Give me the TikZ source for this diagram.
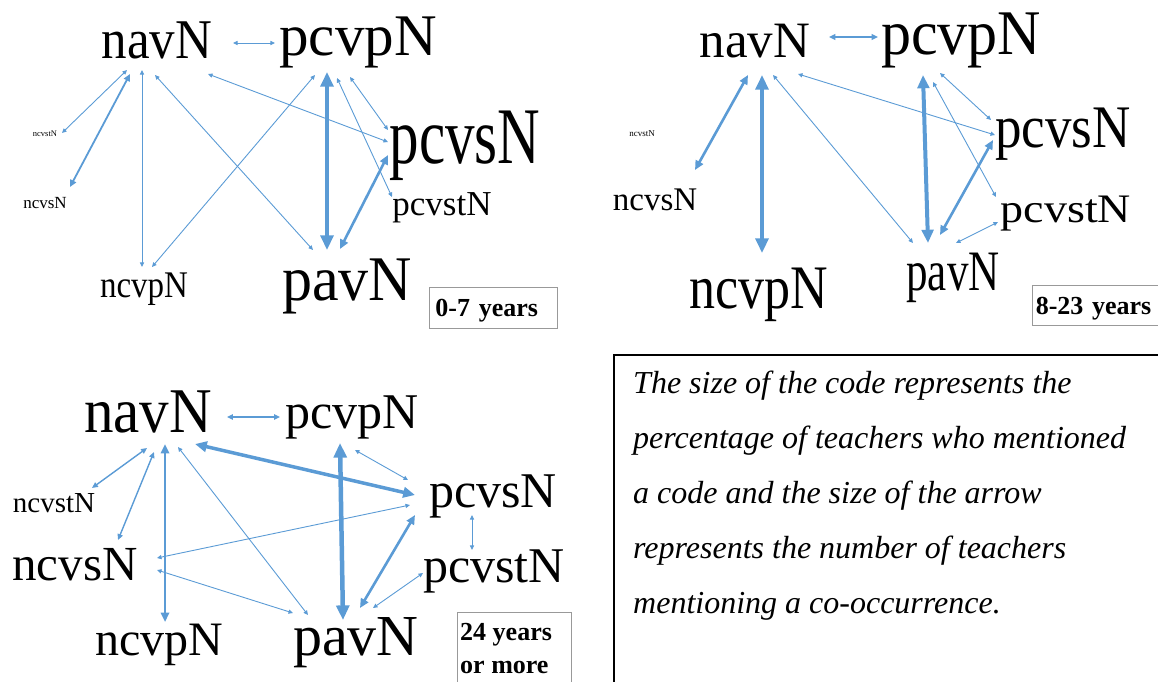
\documentclass[tikz,border=0pt]{standalone}
\usepackage{fontspec}
\setmainfont{Liberation Serif}
\usepackage{graphicx}
\usetikzlibrary{arrows.meta}
\definecolor{linkblue}{RGB}{91,155,213}
\tikzset{
  codelab/.style={inner sep=0pt, anchor=base, font=\fontsize{#1}{#1}\selectfont},
  cooc/.style={draw=linkblue, line width=#1pt, >={Triangle[length=2pt 2.8,width=2pt 2.4]}, <->},
  agebox/.style={draw=black!40, line width=0.9pt, anchor=north west, align=left,
    inner ysep=0pt, text depth=0pt, font=\fontsize{26}{33}\selectfont\bfseries},
}
\newcommand{\tallcode}[2]{\scalebox{1}[#1]{#2}}
\begin{document}
\begin{tikzpicture}[x=1pt, y=-1pt]
    \useasboundingbox (0,0) rectangle (1158,681);

    \node[codelab=51] (nav1)   at (157,58)  {\tallcode{1.1}{navN}};
    \node[codelab=59] (pcvp1)  at (358,55)  {pcvpN};
    \node[codelab=59] (pcvs1)  at (465,163) {\tallcode{1.36}{pcvsN}};
    \node[codelab=35] (pcvst1) at (442,215) {pcvstN};
    \node[codelab=8.5] (ncvst1) at (45,136) {ncvstN};
    \node[codelab=17] (ncvs1)  at (45,208)  {ncvsN};
    \node[codelab=33] (ncvp1)  at (144,297) {\tallcode{1.14}{ncvpN}};
    \node[codelab=60] (pav1)   at (347,300) {\tallcode{1.06}{pavN}};
    \node[agebox, minimum width=128pt, minimum height=41pt, text width=116pt] (age1) at (429,287) {0-7 years};

    \draw[cooc=0.9] ([shift={(76,-15)}]nav1.base) -- ([shift={(-83,-12)}]pcvp1.base);
    \draw[cooc=0.9] ([shift={(-30,12)}]nav1.base) -- ([shift={(17,-3)}]ncvst1.base);
    \draw[cooc=1.8] ([shift={(-27,16)}]nav1.base) -- ([shift={(25,-21)}]ncvs1.base);
    \draw[cooc=0.9] ([shift={(-15,12)}]nav1.base) -- ([shift={(-2,-30)}]ncvp1.base);
    \draw[cooc=0.9] ([shift={(-2,17)}]nav1.base) -- ([shift={(-34,-50)}]pav1.base);
    \draw[cooc=0.9] ([shift={(51,16)}]nav1.base) -- ([shift={(-77,-21)}]pcvs1.base);
    \draw[cooc=0.9] ([shift={(-43,20)}]pcvp1.base) -- ([shift={(8,-30)}]ncvp1.base);
    \draw[cooc=4.5] ([shift={(-31,17)}]pcvp1.base) -- ([shift={(-20,-50)}]pav1.base);
    \draw[cooc=0.9] ([shift={(-8,22)}]pcvp1.base) -- ([shift={(-77,-33)}]pcvs1.base);
    \draw[cooc=0.9] ([shift={(-21,23)}]pcvp1.base) -- ([shift={(-50,-18)}]pcvst1.base);
    \draw[cooc=2.6] ([shift={(-7,-51)}]pav1.base) -- ([shift={(-77,-8)}]pcvs1.base);

    \node[codelab=51] (nav2)   at (755,57)   {navN};
    \node[codelab=60] (pcvp2)  at (961,54)   {\tallcode{1.06}{pcvpN}};
    \node[codelab=53] (pcvs2)  at (1063,147) {\tallcode{1.14}{pcvsN}};
    \node[codelab=46] (pcvst2) at (1066,222) {\tallcode{0.88}{pcvstN}};
    \node[codelab=9]  (ncvst2) at (642,136)  {ncvstN};
    \node[codelab=33] (ncvs2)  at (655,210)  {ncvsN};
    \node[codelab=52] (ncvp2)  at (759,308)  {\tallcode{1.19}{ncvpN}};
    \node[codelab=43] (pav2)   at (953,290)  {\tallcode{1.33}{pavN}};
    \node[agebox, minimum width=128pt, minimum height=40pt, text width=122pt] (age2) at (1032,285) {8-23 years};

    \draw[cooc=1.6] ([shift={(74,-20)}]nav2.base) -- ([shift={(-83,-17)}]pcvp2.base);
    \draw[cooc=2.6] ([shift={(-7,18)}]nav2.base) -- ([shift={(40,-40)}]ncvs2.base);
    \draw[cooc=4.5] ([shift={(7,18)}]nav2.base) -- ([shift={(3,-55)}]ncvp2.base);
    \draw[cooc=0.9] ([shift={(18,18)}]nav2.base) -- ([shift={(-40,-47)}]pav2.base);
    \draw[cooc=0.9] ([shift={(43,17)}]nav2.base) -- ([shift={(-68,-12)}]pcvs2.base);
    \draw[cooc=4]   ([shift={(-38,21)}]pcvp2.base) -- ([shift={(-25,-47)}]pav2.base);
    \draw[cooc=0.9] ([shift={(-21,19)}]pcvp2.base) -- ([shift={(-72,-27)}]pcvs2.base);
    \draw[cooc=0.9] ([shift={(-28,28)}]pcvp2.base) -- ([shift={(-70,-25)}]pcvst2.base);
    \draw[cooc=2.6] ([shift={(-13,-55)}]pav2.base) -- ([shift={(-70,-7)}]pcvs2.base);
    \draw[cooc=0.9] ([shift={(3,-47)}]pav2.base) -- ([shift={(-68,0)}]pcvst2.base);

    \node[codelab=59] (nav3)   at (148,432) {\tallcode{1.08}{navN}};
    \node[codelab=50] (pcvp3)  at (352,428) {pcvpN};
    \node[codelab=50] (pcvs3)  at (493,507) {pcvsN};
    \node[codelab=50] (pcvst3) at (494,582) {pcvstN};
    \node[codelab=29] (ncvst3) at (54,512)  {ncvstN};
    \node[codelab=49] (ncvs3)  at (75,580)  {ncvsN};
    \node[codelab=48] (ncvp3)  at (159,655) {ncvpN};
    \node[codelab=58] (pav3)   at (356,655) {pavN};
    \node[agebox, minimum width=114pt, minimum height=80pt] (age3) at (457,612) {};
    \node[inner sep=0pt, anchor=base west, align=left, font=\fontsize{26}{33}\selectfont\bfseries] (age3txt)
        at ([shift={(3,61)}]age3.north west) {24 years\\or more};

    \draw[cooc=1.4] ([shift={(79,-15)}]nav3.base) -- ([shift={(-72,-11)}]pcvp3.base);
    \draw[cooc=1.4] ([shift={(-1,16)}]nav3.base) -- ([shift={(38,-24)}]ncvst3.base);
    \draw[cooc=1.4] ([shift={(6,20)}]nav3.base) -- ([shift={(43,-40)}]ncvs3.base);
    \draw[cooc=2.6] ([shift={(17,12)}]nav3.base) -- ([shift={(6,-33)}]ncvp3.base);
    \draw[cooc=0.9] ([shift={(30,15)}]nav3.base) -- ([shift={(-48,-40)}]pav3.base);
    \draw[cooc=3.5] ([shift={(47,12)}]nav3.base) -- ([shift={(-78,-12)}]pcvs3.base);
    \draw[cooc=0.9] ([shift={(82,-22)}]ncvs3.base) -- ([shift={(-83,-2)}]pcvs3.base);
    \draw[cooc=0.9] ([shift={(82,-10)}]ncvs3.base) -- ([shift={(-63,-42)}]pav3.base);
    \draw[cooc=4.5] ([shift={(-12,15)}]pcvp3.base) -- ([shift={(-13,-35)}]pav3.base);
    \draw[cooc=0.9] ([shift={(3,22)}]pcvp3.base) -- ([shift={(-85,-27)}]pcvs3.base);
    \draw[cooc=0.9] ([shift={(-21,8)}]pcvs3.base) -- ([shift={(-22,-32)}]pcvst3.base);
    \draw[cooc=2.6] ([shift={(4,-47)}]pav3.base) -- ([shift={(-78,8)}]pcvs3.base);
    \draw[cooc=0.9] ([shift={(17,-47)}]pav3.base) -- ([shift={(-71,-9)}]pcvst3.base);

    \node[draw, line width=1.5pt, anchor=north west, minimum width=560pt, minimum height=340pt] (legend) at (613,354) {};
    \node[inner sep=0pt, anchor=base west, align=left, font=\fontsize{32}{55}\selectfont\itshape] (note)
        at ([shift={(20,259)}]legend.north west)
        {The size of the code represents the\\
         percentage of teachers who mentioned\\
         a code and the size of the arrow\\
         represents the number of teachers\\
         mentioning a co-occurrence.};
\end{tikzpicture}
\end{document}
